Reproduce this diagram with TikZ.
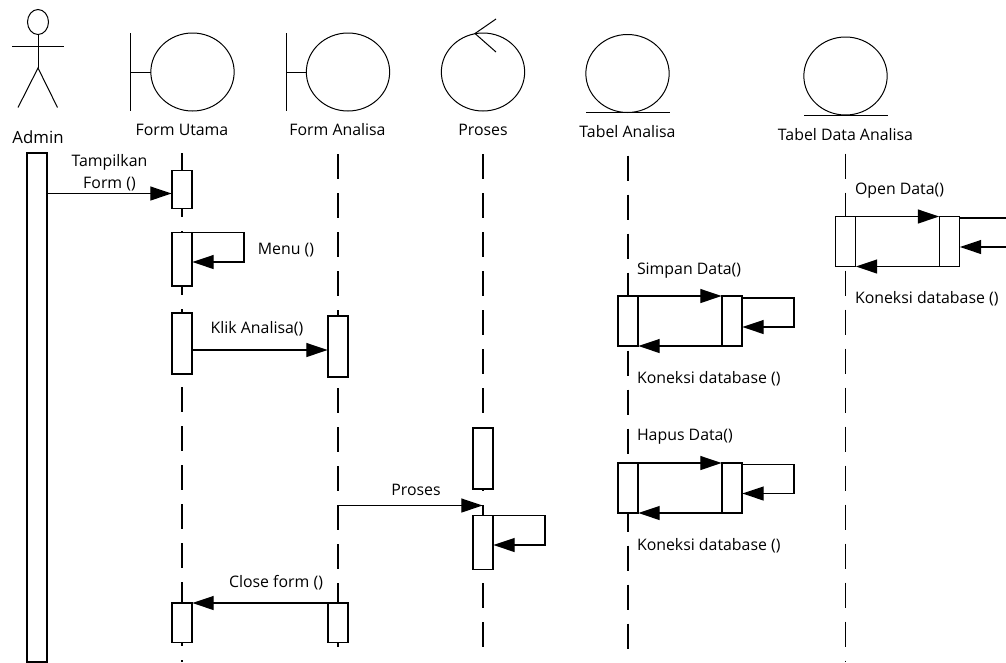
\documentclass[tikz,border=0pt]{standalone}
\usepackage{fontspec}
\setmainfont{Open Sans}
\usetikzlibrary{arrows.meta,shapes.geometric}
\tikzset{
  life/.style={line width=1pt,dash pattern=on 18.75pt off 10.5pt},
  act/.style={draw,fill=white,line width=1pt,inner sep=0pt,outer sep=0pt,anchor=north},
  msg/.style={line width=1pt,-{Triangle[length=16pt,width=10.5pt]},shorten >=0.3pt},
  plain/.style={line width=1pt},
  thinln/.style={line width=0.75pt},
  obj/.style={draw,ellipse,line width=0.75pt,inner sep=0pt,outer sep=0pt,minimum width=62.5pt,minimum height=58.5pt},
  lbl/.style={inner sep=0pt,outer sep=0pt,font=\fontsize{11.9}{14}\selectfont},
  lw/.style={lbl,anchor=west}
}
\newcommand{\actb}[4]{\node[act,minimum width=15pt,minimum height={(#4-#3)*0.75pt}] (#1) at (#2,#3) {};}
\begin{document}
\begin{tikzpicture}[x=0.75pt,y=-0.75pt]
\useasboundingbox (0,0) rectangle (1006,662);
% lifelines
\coordinate (l1a) at (182,153); \coordinate (l1b) at (182,662);
\coordinate (l2a) at (338,154); \coordinate (l2b) at (338,648);
\coordinate (l3a) at (483,154); \coordinate (l3b) at (483,648);
\coordinate (l4a) at (628,155.5); \coordinate (l4b) at (628,649);
\coordinate (l5a) at (845.5,153.5); \coordinate (l5b) at (845.5,662);
\draw[life] (l1a) -- (l1b);
\draw[life] (l2a) -- (l2b);
\draw[life] (l3a) -- (l3b);
\draw[life] (l4a) -- (l4b);
\draw[life] (l5a) -- (l5b);
% actor
\node[draw,ellipse,thinln,inner sep=0pt,outer sep=0pt,minimum width=15.75pt,minimum height=18.75pt] (head) at (38,22) {};
\coordinate (hip) at (38,68); \coordinate (neck) at (38,46.5);
\coordinate (armL) at (12,46.5); \coordinate (armR) at (64,46.5);
\coordinate (legL) at (18,107.5); \coordinate (legR) at (57.5,107.5);
\draw[thinln] (head.south) -- (hip);
\draw[thinln] (armL) -- (armR);
\draw[thinln] (legL) -- (hip) -- (legR);
% boundaries
\node[obj] (fu) at (192.5,72) {};
\coordinate (fuT) at (130,33); \coordinate (fuB) at (130,111); \coordinate (fuM) at (130,72);
\draw[thinln] (fuT) -- (fuB); \draw[thinln] (fuM) -- (fu.west);
\node[obj] (fa) at (348,72) {};
\coordinate (faT) at (286,33); \coordinate (faB) at (286,111); \coordinate (faM) at (286,72);
\draw[thinln] (faT) -- (faB); \draw[thinln] (faM) -- (fa.west);
% control
\node[obj] (pr) at (483,72) {};
\coordinate (prA) at (496,19); \coordinate (prB) at (496,52); \coordinate (prT) at (475,33.5);
\draw[thinln] (prA) -- (prT) -- (prB);
% entities
\node[obj] (ta) at (627.5,73.5) {};
\coordinate (taL) at (586,112.7); \coordinate (taR) at (669.5,112.7);
\draw[thinln] (taL) -- (taR);
\node[obj] (td) at (845.5,76) {};
\coordinate (tdL) at (804,115); \coordinate (tdR) at (887.5,115);
\draw[thinln] (tdL) -- (tdR);
% object labels
\node[lbl,font=\fontsize{12.6}{15}\selectfont] (tAdmin) at (38,137) {Admin};
\node[lbl] (tFU) at (182,130) {Form Utama};
\node[lbl] (tFA) at (337.5,130) {Form Analisa};
\node[lbl] (tPr) at (483,130) {Proses};
\node[lbl] (tTA) at (627.5,132) {Tabel Analisa};
\node[lbl] (tTD) at (845.5,134.5) {Tabel Data Analisa};
% activations
\actb{adm}{37}{153}{662}
\actb{f1}{182}{170.5}{208.5}
\actb{f2}{182}{232.5}{286}
\actb{f3}{182}{313}{374}
\actb{f4}{182}{603}{642.5}
\actb{a1}{338}{316}{377}
\actb{a2}{338}{603}{642.5}
\actb{p1}{483}{428}{489}
\actb{p2}{483}{515.5}{569.5}
\actb{s1}{628}{296}{346}
\actb{s2}{732}{296}{346}
\actb{h1}{628}{463}{513}
\actb{h2}{732}{463}{513}
\actb{d1}{845.5}{216.5}{266.5}
\actb{d2}{949.5}{216.5}{266.5}
% messages
\draw[msg] (adm.east |- 0,193.5) -- (f1.west |- 0,193.5);
\draw[msg] (f2.north east) -- ++(52,0) -- ++(0,29.5) -- (f2.east |- 0,262);
\draw[msg] (f3.east |- 0,350) -- (a1.west |- 0,350);
\coordinate (prStart) at (338,505.5);
\coordinate (prEnd) at (483,505.5);
\draw[msg] (prStart) -- (prEnd);
\draw[plain] (prEnd) -- (p2.north);
\draw[msg] (p2.north east) -- ++(52,0) -- ++(0,29.5) -- (p2.east |- 0,545);
\draw[msg] (a2.north) -- (f4.north east);
\draw[msg] (s1.north east) -- (s2.north west);
\draw[msg] (s2.east |- 0,298) -- ++(52,0) -- ++(0,29) -- (s2.east |- 0,327);
\draw[msg] (s2.south west) -- (s1.south east);
\draw[msg] (h1.north east) -- (h2.north west);
\draw[msg] (h2.east |- 0,464.5) -- ++(52,0) -- ++(0,29) -- (h2.east |- 0,493.5);
\draw[msg] (h2.south west) -- (h1.south east);
\draw[msg] (d1.north east) -- (d2.north west);
\coordinate (edgeA) at (1006,218); \coordinate (edgeB) at (1006,247);
\draw[plain] (d2.east |- edgeA) -- (edgeA);
\draw[msg] (edgeB) -- (d2.east |- edgeB);
\draw[msg] (d2.south west) -- (d1.south east);
% message labels
\node[lbl] (mT1) at (109.5,162) {Tampilkan};
\node[lbl] (mT2) at (109.5,184.5) {Form ()};
\node[lbl] (mM) at (286,250) {Menu ()};
\node[lbl] (mK) at (257,329) {Klik Analisa()};
\node[lbl] (mP) at (416,489.5) {Proses};
\node[lbl] (mC) at (276,583) {Close form ()};
\node[lw] (mO) at (855,191) {Open Data()};
\node[lw] (mK1) at (855,299) {Koneksi database ()};
\node[lw] (mS) at (637,270.5) {Simpan Data()};
\node[lw] (mK2) at (637,379) {Koneksi database ()};
\node[lw] (mH) at (637,436.5) {Hapus Data()};
\node[lw] (mK3) at (637,546) {Koneksi database ()};
\end{tikzpicture}
\end{document}
